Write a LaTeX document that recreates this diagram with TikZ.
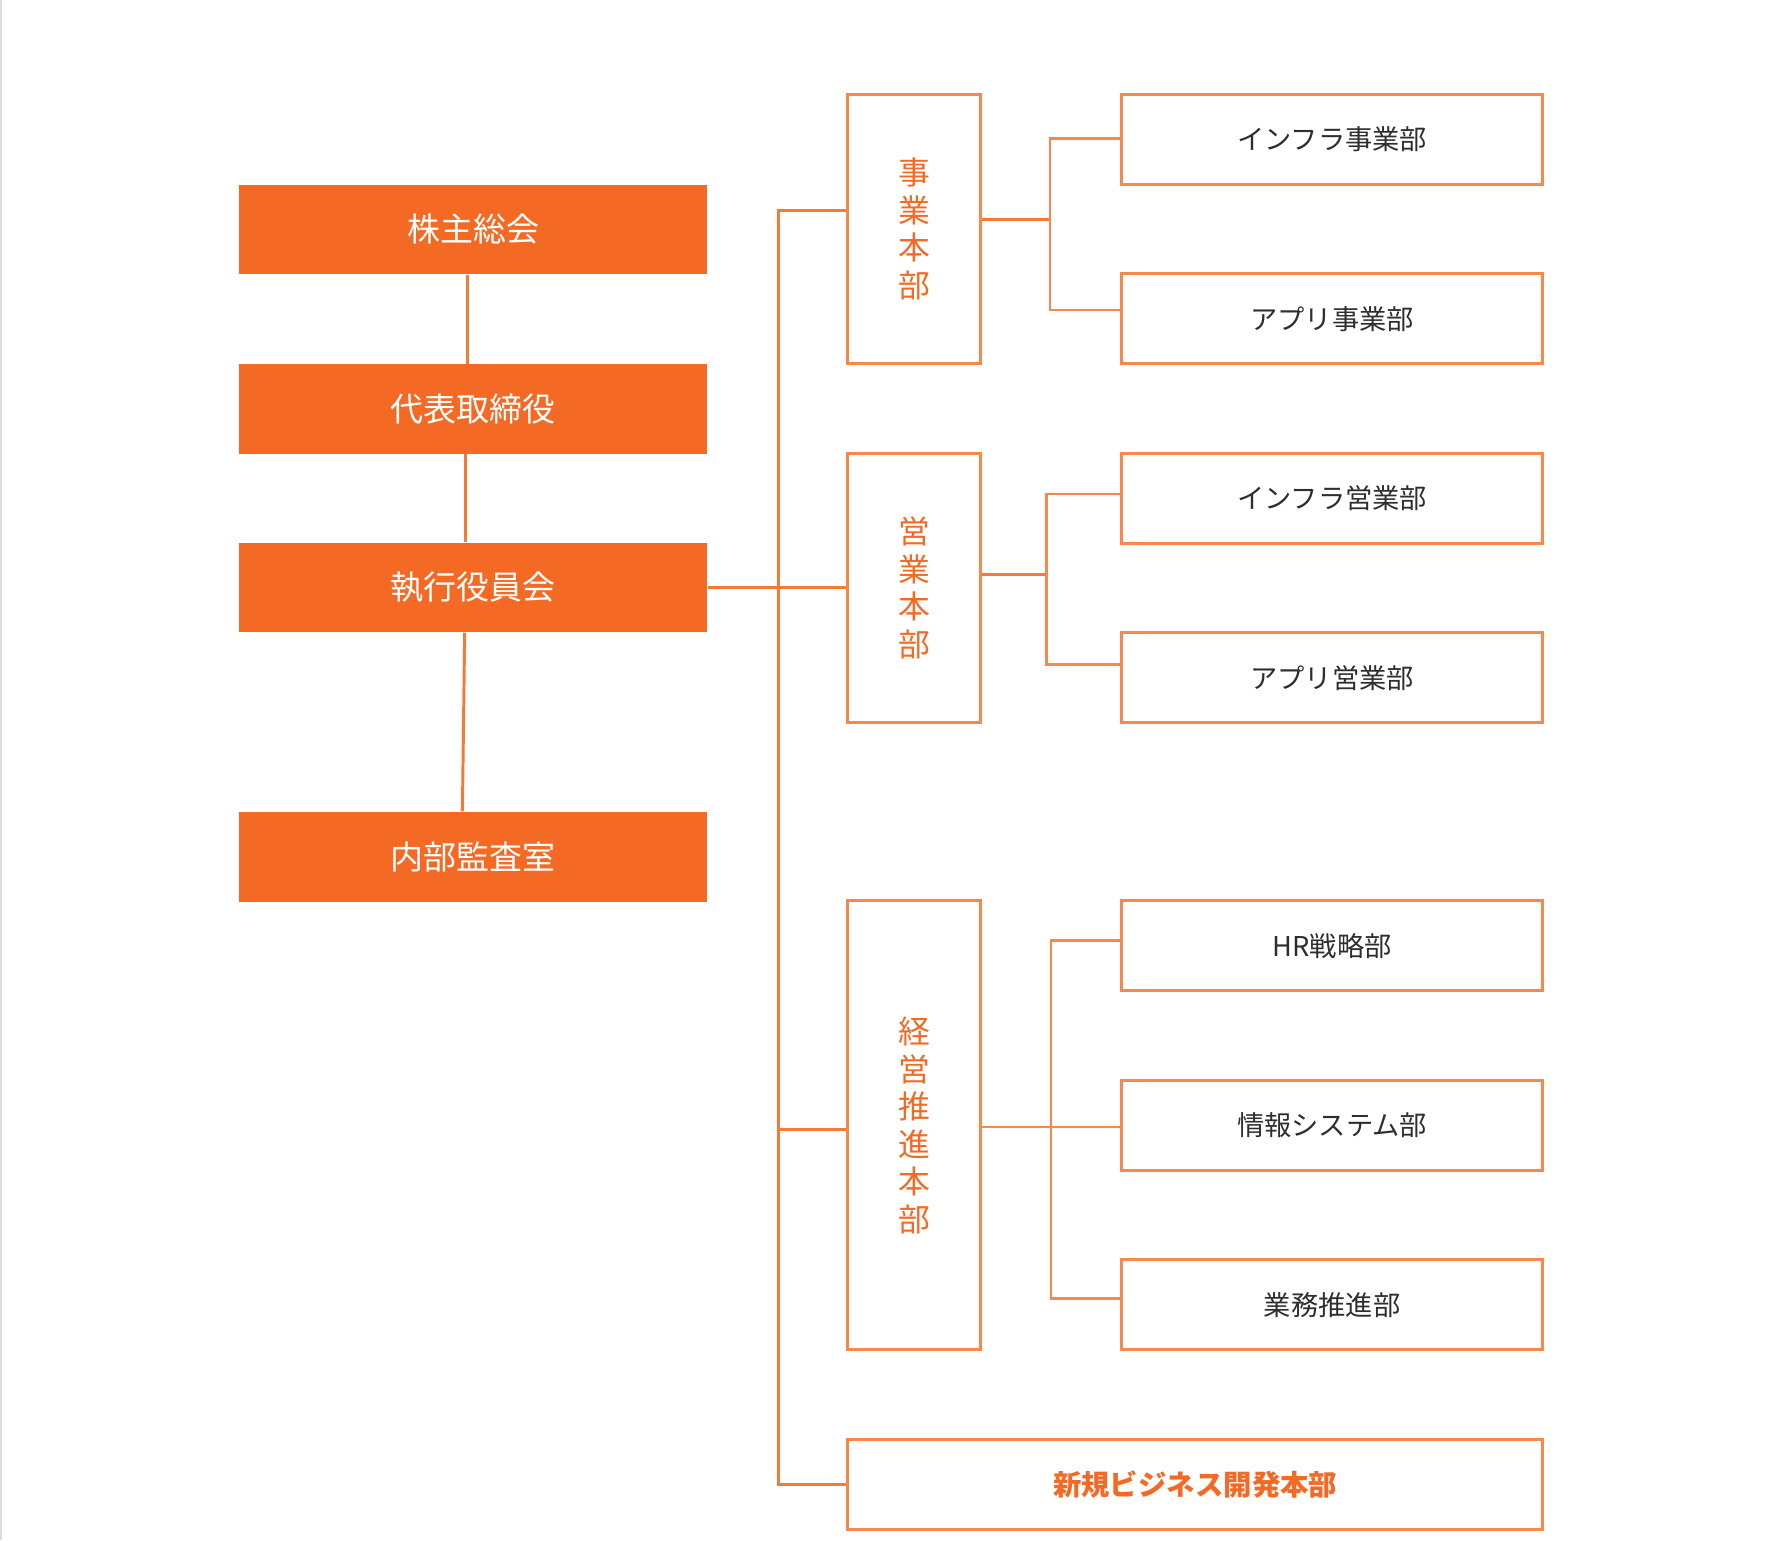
\documentclass[tikz,border=0pt]{standalone}
\usepackage{fontspec}
\newfontfamily\jp{Noto Sans CJK JP}
\definecolor{orfill}{HTML}{F46A24}
\definecolor{orline}{HTML}{F47A36}
\definecolor{orbox}{HTML}{F7884C}
\definecolor{txt}{HTML}{2E2E2E}
\definecolor{edge}{HTML}{DDDDDD}
\begin{document}
\begin{tikzpicture}[x=0.5pt,y=-0.5pt,
 topbox/.style={fill=orfill, draw=none, minimum width=206pt, minimum height=39.5pt, inner sep=0pt, text=white, font=\jp\fontsize{14.5pt}{16pt}\selectfont},
 divbox/.style={draw=orbox, line width=1.3pt, fill=white, minimum width=58.5pt, inner sep=0pt, text=orfill, align=center, font=\jp\fontsize{14pt}{16.5pt}\selectfont},
 deptbox/.style={draw=orbox, line width=1.3pt, minimum width=185.5pt, minimum height=39.5pt, inner sep=0pt, text=txt, font=\jp\fontsize{12pt}{14pt}\selectfont},
 conn/.style={draw=orline, line width=1.3pt},
 subconn/.style={draw=orbox, line width=1.1pt}]
\useasboundingbox[fill=white] (0,0) rectangle (1568.5,1355.5);
\draw[edge, line width=0.7pt] (0.8,0) -- (0.8,972);
\draw[edge, line width=0.9pt] (1.3,972) -- (1.3,1355.5);

% left column
\node[topbox] (kab) at (416.5,202) {株主総会};
\node[topbox] (dai) at (416.5,360) {代表取締役};
\node[topbox] (shi) at (416.5,517) {執行役員会};
\node[topbox] (nai) at (416.5,754) {内部監査室};

% divisions
\node[divbox, minimum height=118.5pt] (jig) at (804.5,201.5) {事\\業\\本\\部};
\node[divbox, minimum height=118.5pt] (eig) at (804.5,517.5) {営\\業\\本\\部};
\node[divbox, minimum height=197.5pt] (kei) at (804.5,990.5) {経\\営\\推\\進\\本\\部};
\node[divbox, minimum width=306pt, minimum height=39.5pt, font=\jp\bfseries\fontsize{12.5pt}{14pt}\selectfont] (shin) at (1052,1306.5) {新規ビジネス開発本部};

% departments
\node[deptbox] (infj) at (1172.5,122.5) {インフラ事業部};
\node[deptbox] (appj) at (1172.5,280.5) {アプリ事業部};
\node[deptbox] (infe) at (1172.5,438.5) {インフラ営業部};
\node[deptbox] (appe) at (1172.5,596.5) {アプリ営業部};
\node[deptbox] (hr) at (1172.5,832.5) {HR戦略部};
\node[deptbox] (jsys) at (1172.5,990.5) {情報システム部};
\node[deptbox] (gyo) at (1172.5,1148.5) {業務推進部};

% left vertical connectors
\draw[conn] ([xshift=-2.5pt]kab.south) -- ([xshift=-2.5pt]dai.north);
\draw[conn] ([xshift=-3.25pt]dai.south) -- ([xshift=-3.25pt]shi.north);
\draw[conn] ([xshift=-3.75pt]shi.south) -- ([xshift=-4.75pt]nai.north);

% trunk
\coordinate (t1) at (685,185);
\coordinate (t4) at (685,1307);
\coordinate (t3) at (685,994);
\draw[conn] (jig.west |- t1) -- (t1) -- (t4) -- (shin.west |- t4);
\draw[conn] (shi.east) -- (shi.east -| eig.west);
\draw[conn] (t3) -- (t3 -| kei.west);

% 事業本部 branch
\coordinate (jA) at (924,193);
\coordinate (jT) at (924,122);
\coordinate (jB) at (924,273);
\draw[conn] (jA -| jig.east) -- (jA);
\draw[subconn] (jT -| infj.west) -- (jT) -- (jB) -- (jB -| appj.west);

% 営業本部 branch
\coordinate (eA) at (921,506);
\coordinate (eT) at (921,435);
\coordinate (eB) at (921,585);
\draw[conn] (eA -| eig.east) -- (eA);
\draw[subconn] (eT -| infe.west) -- (eT) -- (eB) -- (eB -| appe.west);

% 経営推進本部 branch
\coordinate (kA) at (925,992);
\coordinate (kT) at (925,828);
\coordinate (kB) at (925,1143);
\draw[subconn] (kA -| kei.east) -- (kA -| jsys.west);
\draw[subconn] (kT -| hr.west) -- (kT) -- (kB) -- (kB -| gyo.west);
\end{tikzpicture}
\end{document}
